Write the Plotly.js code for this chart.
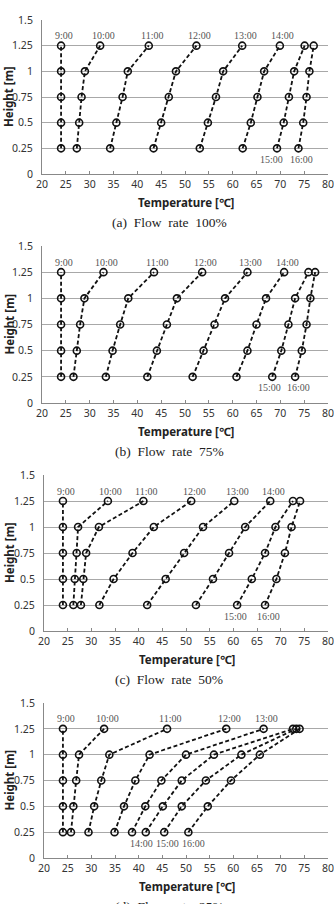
<!DOCTYPE html>
<html>
<head>
<meta charset="utf-8">
<script src="https://cdn.plot.ly/plotly-3.0.1.min.js"></script>
<style>html,body{margin:0;padding:0;background:#fff;}#chart{width:334px;height:904px;}</style>
</head>
<body>
<div id="chart"></div>
<script>
// ---- data ----
const heights = [0.25, 0.5, 0.75, 1.0, 1.25];
const times = ["9:00","10:00","11:00","12:00","13:00","14:00","15:00","16:00"];
const captions = ["(a)  Flow  rate  100%", "(b)  Flow  rate  75%", "(c)  Flow  rate  50%", "(d)  Flow  rate  25%"];
// temperatures [°C] at heights 0.25..1.25, one row per time
const flow100 = [
  [24.0, 24.0, 24.0, 24.0, 24.0],
  [27.3, 27.8, 28.3, 29.0, 32.2],
  [34.3, 35.6, 36.9, 38.0, 42.4],
  [43.4, 45.0, 46.6, 48.1, 52.4],
  [53.1, 54.8, 56.5, 58.0, 62.0],
  [62.1, 63.8, 65.2, 66.6, 69.9],
  [69.3, 70.7, 71.8, 72.9, 75.1],
  [73.8, 74.8, 75.5, 76.1, 77.0]
];
const flow75 = [
  [24.0, 24.0, 24.0, 24.0, 24.0],
  [26.6, 27.3, 28.0, 28.9, 32.9],
  [33.4, 34.8, 36.4, 38.1, 43.5],
  [42.1, 44.1, 46.2, 48.3, 53.6],
  [51.6, 53.9, 56.2, 58.4, 63.1],
  [60.8, 63.1, 65.0, 67.0, 70.8],
  [68.3, 70.2, 71.7, 73.1, 75.9],
  [73.1, 74.5, 75.5, 76.3, 77.3]
];
const flow50 = [
  [24.0, 24.0, 24.0, 24.0, 24.0],
  [26.2, 26.5, 26.9, 27.2, 33.5],
  [27.8, 28.3, 28.9, 31.6, 41.0],
  [31.7, 34.7, 38.7, 43.2, 51.1],
  [41.8, 45.7, 49.6, 53.6, 60.2],
  [52.1, 55.7, 59.1, 62.5, 67.8],
  [60.8, 63.9, 66.7, 68.9, 72.6],
  [66.7, 69.1, 70.9, 72.3, 74.1]
];
const flow25 = [
  [24.0, 24.0, 24.0, 24.0, 24.0],
  [25.7, 26.2, 26.8, 27.4, 32.7],
  [29.4, 30.6, 32.1, 33.8, 46.0],
  [34.9, 36.9, 39.3, 42.3, 58.5],
  [38.6, 41.4, 44.8, 50.0, 66.4],
  [41.5, 45.1, 49.1, 55.9, 72.6],
  [45.4, 49.1, 54.2, 61.7, 73.3],
  [50.5, 54.6, 59.5, 65.6, 74.0]
];
const labelsBelow = [["15:00","16:00"], ["15:00","16:00"], ["15:00","16:00"], ["14:00","15:00","16:00"]];
const xTicks = [20,25,30,35,40,45,50,55,60,65,70,75,80];
const yTicks = [0,0.25,0.5,0.75,1,1.25,1.5];

// ---- layout geometry / label nudges (pixels) ----
const W = 334, H = 904;
const panels = [flow100, flow75, flow50, flow25];
const boxes = [
  {l: 42, r: 328, t: 20, b: 174},
  {l: 42, r: 328, t: 246, b: 403},
  {l: 44, r: 328, t: 475, b: 631},
  {l: 44, r: 328, t: 703, b: 858}
];
const belowNudge = [[-6, 3], [-3, 3], [-2, 3], [-4, 3, 5]];

const traces = [];
const annotations = [];
const layout = {
  width: W, height: H,
  margin: {l: 0, r: 0, t: 0, b: 0},
  paper_bgcolor: '#fff', plot_bgcolor: '#fff',
  showlegend: false,
  font: {family: 'Noto Sans, Open Sans, sans-serif', color: '#333', size: 10.5},
  annotations: annotations
};

panels.forEach((data, p) => {
  const bx = boxes[p];
  const xa = 'x' + (p === 0 ? '' : p + 1);
  const ya = 'y' + (p === 0 ? '' : p + 1);
  data.forEach((row, i) => {
    traces.push({
      type: 'scatter', mode: 'lines+markers',
      x: row, y: heights, xaxis: xa, yaxis: ya,
      line: {color: '#111', width: 1.8, dash: '4px,2.5px'},
      marker: {symbol: 'circle-open', size: 7, color: '#111', line: {width: 1.6, color: '#111'}},
      hoverinfo: 'skip'
    });
    const bi = labelsBelow[p].indexOf(times[i]);
    const below = bi >= 0;
    annotations.push({
      xref: xa, yref: ya,
      x: below ? row[0] : row[row.length - 1],
      y: below ? heights[0] : heights[heights.length - 1],
      text: times[i], showarrow: false,
      xshift: below ? belowNudge[p][bi] : 3, yshift: below ? -11 : 10,
      font: {family: 'Liberation Serif, DejaVu Serif, serif', size: 10, color: '#555'}
    });
  });
  const xkey = 'xaxis' + (p === 0 ? '' : p + 1);
  const ykey = 'yaxis' + (p === 0 ? '' : p + 1);
  layout[xkey] = {
    domain: [bx.l / W, bx.r / W], anchor: ya,
    range: [20, 80], tickvals: xTicks, ticktext: xTicks.map(String),
    showgrid: false, zeroline: false, showline: true, linecolor: '#888', linewidth: 1,
    ticks: 'inside', ticklen: 3, tickcolor: '#888', ticklabeloverflow: 'allow',
    tickfont: {size: 10.5, color: '#333'}, fixedrange: true
  };
  layout[ykey] = {
    domain: [1 - bx.b / H, 1 - bx.t / H], anchor: xa,
    range: [0, 1.5], tickvals: yTicks, ticktext: yTicks.map(String),
    showgrid: true, gridcolor: '#a8a8a8', gridwidth: 1,
    zeroline: false, showline: true, linecolor: '#888', linewidth: 1,
    ticks: '', ticklabelstandoff: 6,
    tickfont: {size: 10.5, color: '#333'}, fixedrange: true
  };
  // x axis title
  annotations.push({
    xref: 'paper', yref: 'paper', x: ((bx.l + bx.r) / 2 + 1) / W, y: 1 - (bx.b + 28.5) / H,
    text: '<b>Temperature [℃]</b>', showarrow: false, xanchor: 'center', yanchor: 'middle',
    font: {family: 'Noto Sans, sans-serif', size: 11.5, color: '#222'}
  });
  // y axis title
  annotations.push({
    xref: 'paper', yref: 'paper', x: 9 / W, y: 1 - ((bx.t + bx.b) / 2) / H,
    text: '<b>Height [m]</b>', showarrow: false, textangle: -90, xanchor: 'center', yanchor: 'middle',
    font: {family: 'Noto Sans, sans-serif', size: 11.5, color: '#222'}
  });
  // caption
  annotations.push({
    xref: 'paper', yref: 'paper', x: 169 / W, y: 1 - (bx.b + 48.7) / H,
    text: captions[p], showarrow: false, xanchor: 'center', yanchor: 'middle',
    font: {family: 'Liberation Serif, DejaVu Serif, serif', size: 13.5, color: '#222'}
  });
});

Plotly.newPlot('chart', traces, layout, {staticPlot: true, displayModeBar: false});
</script>
</body>
</html>
